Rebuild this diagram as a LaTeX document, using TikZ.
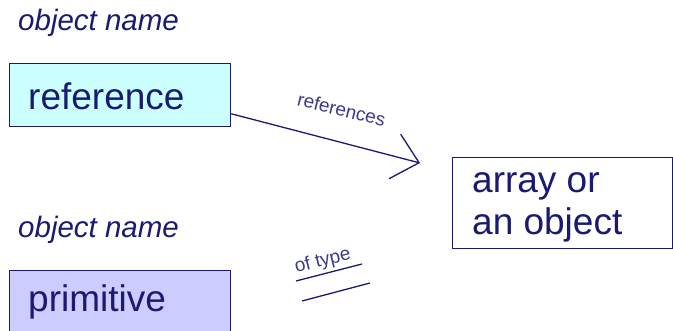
\documentclass[tikz,border=0pt]{standalone}
\usepackage{fontspec}
\setmainfont{Liberation Sans}
\usetikzlibrary{arrows.meta,calc}
\definecolor{ink}{HTML}{1A1A70}
\definecolor{labelink}{HTML}{3A3A8A}
\definecolor{reffill}{HTML}{CCFFFF}
\definecolor{primfill}{HTML}{CCCCFF}
\begin{document}
\begin{tikzpicture}[x=1pt,y=-1pt,
  box/.style={draw=ink, line width=1.3pt, rectangle, inner sep=0pt, anchor=north west},
  bigtext/.style={text=ink, inner sep=0pt, anchor=base west, font=\fontsize{37}{40}\selectfont},
  nametext/.style={text=ink, inner sep=0pt, anchor=base west, font=\fontsize{29.5}{32}\selectfont\itshape},
  smalltext/.style={text=labelink, inner sep=0pt, anchor=base, font=\fontsize{19}{22}\selectfont},
  link/.style={draw=ink, line width=1.3pt}]
\useasboundingbox (0,0) rectangle (673,331);
\clip (0,0) rectangle (673,331);

% reference variable
\node[nametext] (name1) at (18,31) {object name};
\node[box, fill=reffill, minimum width=221pt, minimum height=63pt] (refbox) at (9,63) {};
\node[bigtext] (reftext) at (28,110) {reference};

% referenced array or object
\node[box, fill=white, minimum width=220pt, minimum height=91pt] (objbox) at (452,157) {};
\node[bigtext] (objtext1) at (472,193) {array or};
\node[bigtext] (objtext2) at (472,235) {an object};

% arrow "references"
\coordinate (refout) at ($(refbox.south east)!0.21!(refbox.north east)$);
\coordinate (reftip) at (420,163);
\draw[link, -{Straight Barb[length=25pt, width=46pt, line width=1.3pt]}] (refout) -- (reftip);
\node[smalltext, rotate=-14] (reflabel) at (340,116) {references};

% primitive variable
\node[nametext] (name2) at (18,238) {object name};
\node[box, fill=primfill, minimum width=221pt, minimum height=80pt] (primbox) at (9,270) {};
\node[bigtext] (primtext) at (28,312) {primitive};

% "of type" sign
\node[smalltext, rotate=14] (typelabel) at (324,266) {of type};
\coordinate (eqa1) at (296,281);
\coordinate (eqa2) at (362,264);
\coordinate (eqb1) at (302,301);
\coordinate (eqb2) at (370,283);
\draw[link] (eqa1) -- (eqa2);
\draw[link] (eqb1) -- (eqb2);
\end{tikzpicture}
\end{document}
